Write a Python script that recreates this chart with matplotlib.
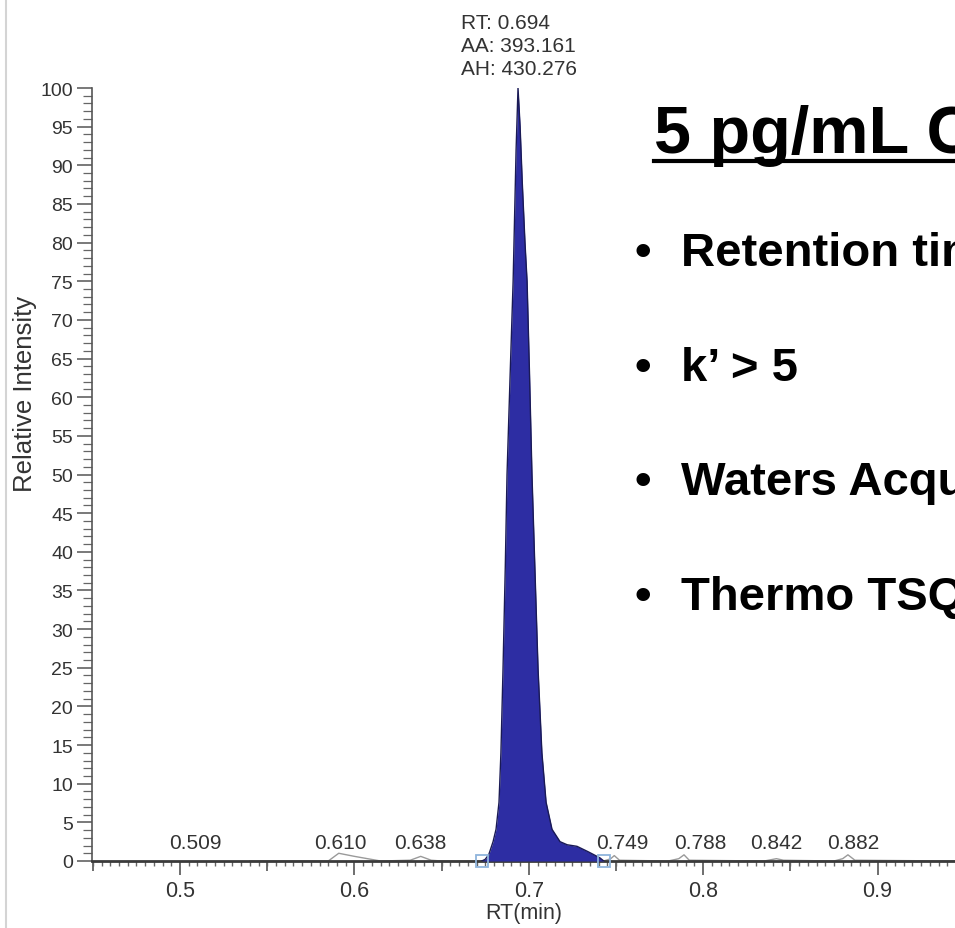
import matplotlib
matplotlib.use("Agg")
import matplotlib.pyplot as plt
from matplotlib.ticker import MultipleLocator
from matplotlib.lines import Line2D

plt.rcParams['font.family'] = ['Liberation Sans', 'DejaVu Sans']

# ---------------- data ----------------
peak_rt = [0.6730, 0.6749, 0.6770, 0.6795, 0.6812, 0.6829, 0.6840, 0.6852, 0.6865,
           0.6875, 0.6893, 0.6910, 0.6927, 0.6938, 0.6950, 0.6962, 0.6978, 0.6990,
           0.7004, 0.7018, 0.7036, 0.7053, 0.7075, 0.7099, 0.7133, 0.7179, 0.7220,
           0.7276, 0.7340, 0.7408, 0.7430]
peak_val = [0.0, 0.2, 0.8, 2.5, 4.1, 7.6, 14.0, 24.8, 38.0,
            50.0, 63.0, 75.0, 92.0, 100.0, 95.0, 88.0, 80.0, 75.0,
            63.0, 50.0, 37.0, 24.8, 14.0, 7.6, 4.1, 2.5, 2.1,
            1.9, 1.2, 0.4, 0.0]

noise_rt = [0.540, 0.585, 0.591, 0.600, 0.610, 0.615, 0.632, 0.638, 0.644, 0.650, 0.673,
            0.743, 0.747, 0.749, 0.752, 0.780, 0.786, 0.789, 0.792, 0.835, 0.842, 0.846,
            0.875, 0.880, 0.883, 0.887, 0.944]
noise_val = [0.0, 0.0, 1.0, 0.6, 0.2, 0.0, 0.1, 0.6, 0.1, 0.0, 0.0,
             0.0, 0.3, 0.7, 0.1, 0.0, 0.3, 0.8, 0.1, 0.0, 0.3, 0.1,
             0.0, 0.3, 0.8, 0.1, 0.0]

boundary_rt = [0.673, 0.743]
boundary_val = [0.0, 0.0]

small_peaks = [0.509, 0.610, 0.638, 0.749, 0.788, 0.842, 0.882]
main_rt = 0.694
main_aa = 393.161
main_ah = 430.276

title_text = "5 pg/mL Calibrator"
bullets = ["Retention time", "k\u2019 > 5", "Waters Acquity", "Thermo TSQ"]

# ---------------- figure ----------------
W, H = 955, 929
fig = plt.figure(figsize=(W / 100, H / 100), dpi=100)
fig.patch.set_facecolor('white')
ax = fig.add_axes([92 / W, 67 / H, 1 - 92 / W, 773 / H])
ax.set_xlim(0.4495, 0.9444)
ax.set_ylim(0, 100)

fill_c = '#2d2da3'
edge_c = '#1a1a55'
ax.fill_between(peak_rt, peak_val, color=fill_c, lw=0, zorder=3)
ax.plot(peak_rt, peak_val, color=edge_c, lw=1.0, zorder=4)
ax.plot(noise_rt, noise_val, color='#9a9a9a', lw=1.0, zorder=2)
ax.plot(boundary_rt, boundary_val, ls='none', marker='s', ms=9, mfc='none',
        mec='#8fb4dc', mew=1.3, zorder=6, clip_on=False)

tc = '#333333'
for s in ['top', 'right']:
    ax.spines[s].set_visible(False)
ax.spines['bottom'].set_linewidth(2.0)
ax.spines['bottom'].set_color('#3a3a3a')
ax.spines['left'].set_linewidth(1.2)
ax.spines['left'].set_color('#555555')

ax.xaxis.set_major_locator(MultipleLocator(0.1))
ax.xaxis.set_minor_locator(MultipleLocator(0.005))
ax.yaxis.set_major_locator(MultipleLocator(5))
ax.yaxis.set_minor_locator(MultipleLocator(1))
ax.xaxis.set_major_formatter(matplotlib.ticker.FormatStrFormatter('%g'))
ax.tick_params(axis='x', which='major', length=10, width=1.2, color='#555555',
               labelsize=15.5, labelcolor=tc, pad=4)
ax.tick_params(axis='x', which='minor', length=3.6, width=1.0, color='#666666')
ax.tick_params(axis='y', which='major', length=10.5, width=1.1, color='#555555',
               labelsize=14, labelcolor=tc, pad=3)
ax.tick_params(axis='y', which='minor', length=6.2, width=0.9, color='#666666')

sec = ax.secondary_xaxis('bottom')
sec.set_xticks([0.45, 0.55, 0.65, 0.75, 0.85])
sec.tick_params(length=7, width=1.2, color='#555555', labelbottom=False)
sec.spines['bottom'].set_visible(False)

ax.set_xlabel('RT(min)', fontsize=15.5, color=tc)
ax.xaxis.set_label_coords(0.5, -0.053)
ax.set_ylabel('Relative Intensity', fontsize=18.5, color=tc)
ax.yaxis.set_label_coords(-0.064, 0.605)

# peak annotations
ax.annotate(f"RT: {main_rt:.3f}\nAA: {main_aa:.3f}\nAH: {main_ah:.3f}",
            xy=(main_rt, 100), xytext=(1, 10), textcoords='offset pixels',
            ha='center', va='bottom', multialignment='left', fontsize=15,
            color=tc, linespacing=1.27, annotation_clip=False)
offsets = {0.610: -32, 0.749: 8, 0.788: 18, 0.882: 7}
for rt in small_peaks:
    ax.annotate(f"{rt:.3f}", xy=(rt, 0), xytext=(offsets.get(rt, 0), 9),
                textcoords='offset pixels', ha='center', va='bottom',
                fontsize=15, color=tc)

# frame line on the left
fig.add_artist(Line2D([6 / W, 6 / W], [0, 1], color='#d4d4d4', lw=1.5))

# right-hand slide text
def fx(px):
    return px / W

def fy(py):
    return 1 - py / H

fig.text(fx(654), fy(153), title_text, fontsize=48, fontweight='bold',
         color='black', va='baseline', ha='left')
fig.add_artist(Line2D([fx(654), 1.0], [fy(162), fy(162)], color='black', lw=3))
for i, b in enumerate(bullets):
    yb = 266 + i * 114.7
    fig.text(fx(634), fy(yb), "\u2022", fontsize=34, fontweight='bold',
             color='black', va='baseline', ha='left')
    fig.text(fx(681), fy(yb), b, fontsize=34, fontweight='bold',
             color='black', va='baseline', ha='left')

fig.savefig('out.png', dpi=100, facecolor='white')
